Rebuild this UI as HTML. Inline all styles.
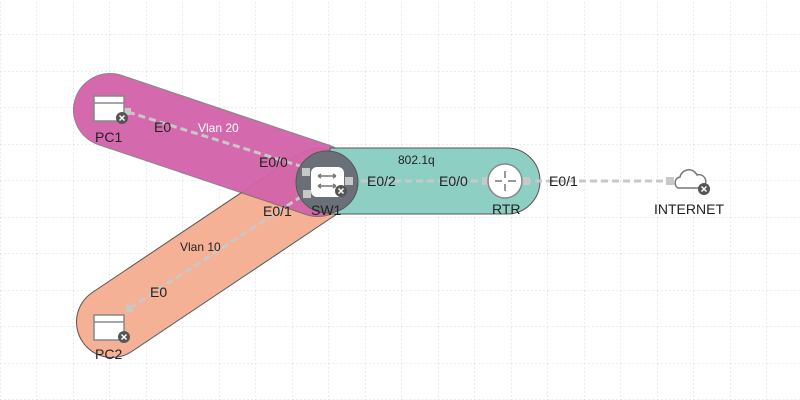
<!DOCTYPE html>
<html><head><meta charset="utf-8"><style>
body{margin:0;background:#fff}
svg{display:block}
text{font-family:"Liberation Sans",sans-serif;font-size:14px;fill:#222}
</style></head><body>
<svg width="800" height="400" xmlns="http://www.w3.org/2000/svg">
<defs>
<pattern id="g" width="36.5" height="36.5" patternUnits="userSpaceOnUse" x="0" y="-2">
<path d="M0 0V36.5M0 0H36.5" stroke="#d8d8d8" stroke-width="1" stroke-dasharray="2,2" fill="none"/>
</pattern>
</defs>
<rect width="800" height="400" fill="url(#g)"/>
<!-- orange band -->
<line x1="112" y1="322" x2="318" y2="184" stroke="#555" stroke-width="72" stroke-linecap="round"/>
<line x1="112" y1="322" x2="318" y2="184" stroke="#f4b196" stroke-width="70" stroke-linecap="round"/>
<!-- pink band -->
<line x1="110" y1="110" x2="318" y2="180" stroke="#555" stroke-width="74" stroke-linecap="round" opacity="0.7"/>
<line x1="110" y1="110" x2="318" y2="180" stroke="#e266b4" stroke-width="72" stroke-linecap="round" opacity="0.85"/>
<!-- teal band -->
<path d="M330 148 H507 A33 33 0 0 1 507 214 H330 Z" fill="#8ecfc3" stroke="#555" stroke-width="1"/>
<!-- links -->
<g stroke="#c8c8c8" stroke-width="3" stroke-dasharray="7,4" fill="none">
<line x1="128" y1="112" x2="300" y2="166"/>
<line x1="130" y1="308" x2="302" y2="196"/>
<line x1="350" y1="181" x2="488" y2="181"/>
<line x1="524" y1="181" x2="668" y2="181"/>
</g>
<g fill="#c8c8c8">
<rect x="124" y="108" width="7" height="7"/>
<rect x="126" y="305" width="7" height="7"/>
<rect x="666" y="177" width="8" height="8"/>
<rect x="482" y="177" width="8" height="8"/>
<rect x="522" y="177" width="8" height="8"/>
</g>
<!-- SW1 -->
<circle cx="327" cy="182" r="31" fill="#6b7078" stroke="#555"/>
<rect x="302" y="168" width="8" height="8" fill="#c8c8c8"/>
<rect x="303" y="190" width="8" height="8" fill="#c8c8c8"/>
<rect x="345" y="177" width="8" height="8" fill="#c8c8c8"/>
<rect x="311" y="167" width="33" height="30" rx="6" fill="#fff"/>
<g stroke="#777" stroke-width="1.5" fill="none">
<path d="M318 176h18M318 176l3-2M318 176l3 2M336 176l-3-2M336 176l-3 2"/>
<path d="M318 186h18M318 186l3-2M318 186l3 2M336 186l-3-2M336 186l-3 2"/>
</g>
<circle cx="341" cy="191" r="6" fill="#555"/>
<path d="M338.5 188.5l5 5M343.5 188.5l-5 5" stroke="#fff" stroke-width="1.5"/>
<text x="311" y="215">SW1</text>
<!-- RTR -->
<circle cx="505" cy="181" r="17" fill="#fff" stroke="#888" stroke-width="1.5"/>
<g stroke="#777" stroke-width="1.5">
<path d="M505 171v7M505 184v7M495 181h7M508 181h8"/>
</g>
<text x="492" y="214">RTR</text>
<!-- Cloud -->
<path d="M678 188 a6 6 0 0 1 2 -11 a9 9 0 0 1 17 -2 a6 6 0 0 1 4 13 z" fill="#fff" stroke="#777" stroke-width="1.5"/>
<circle cx="704" cy="189" r="6" fill="#555"/>
<path d="M701.5 186.5l5 5M706.5 186.5l-5 5" stroke="#fff" stroke-width="1.5"/>
<text x="654" y="214">INTERNET</text>
<!-- PC1 -->
<rect x="94" y="96" width="30" height="25" fill="#fff" stroke="#888" stroke-width="1.5"/>
<line x1="94" y1="103" x2="124" y2="103" stroke="#888" stroke-width="1.5"/>
<circle cx="122" cy="118" r="6" fill="#555"/>
<path d="M119.5 115.5l5 5M124.5 115.5l-5 5" stroke="#fff" stroke-width="1.5"/>
<text x="95" y="142">PC1</text>
<!-- PC2 -->
<rect x="94" y="315" width="30" height="25" fill="#fff" stroke="#888" stroke-width="1.5"/>
<line x1="94" y1="322" x2="124" y2="322" stroke="#888" stroke-width="1.5"/>
<circle cx="124" cy="337" r="6" fill="#555"/>
<path d="M121.5 334.5l5 5M126.5 334.5l-5 5" stroke="#fff" stroke-width="1.5"/>
<text x="95" y="359">PC2</text>
<!-- labels -->
<text x="154" y="132">E0</text>
<text x="198" y="132" style="fill:#fff;font-size:12px">Vlan 20</text>
<text x="259" y="167">E0/0</text>
<text x="263" y="216">E0/1</text>
<text x="180" y="251" style="font-size:12px">Vlan 10</text>
<text x="150" y="297">E0</text>
<text x="398" y="164" style="font-size:12px">802.1q</text>
<text x="367" y="186">E0/2</text>
<text x="439" y="186">E0/0</text>
<text x="549" y="186">E0/1</text>
</svg>
</body></html>
